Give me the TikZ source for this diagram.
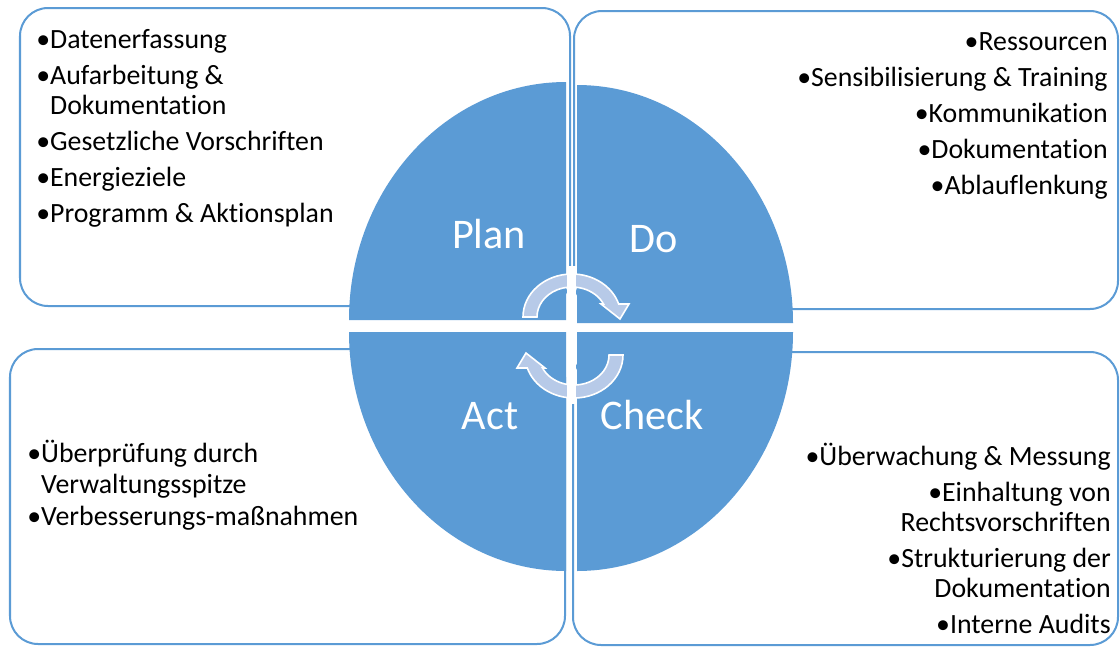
\documentclass[tikz,border=0pt]{standalone}
\usepackage{fontspec}
\setmainfont{Carlito}[Ligatures=NoCommon]
\definecolor{quarterBlue}{HTML}{5B9BD5}
\definecolor{arrowBlue}{HTML}{B7CAE8}
\tikzstyle{listbox} = [draw=quarterBlue, fill=white, line width=0.05cm, rounded corners=0.7cm]
\tikzstyle{quarter} = [fill=quarterBlue]
\tikzstyle{phase} = [text=white, font=\fontsize{30}{36}\selectfont, inner sep=0pt, anchor=base]
\tikzstyle{itemsLeft} = [align=left, anchor=north west, inner sep=0pt, font=\fontsize{19.8}{21.3}\selectfont]
\tikzstyle{itemsRight} = [align=right, anchor=north east, inner sep=0pt, font=\fontsize{19.8}{21.3}\selectfont]
\tikzstyle{cyclearrow} = [fill=arrowBlue, draw=white, line width=0.04cm]

\begin{document}
\begin{tikzpicture}[x=0.025cm, y=-0.025cm]
\useasboundingbox (0,0) rectangle (1120,646);

% boxes behind the circle
\draw [listbox] (20,8) rectangle (570,306);
\draw [listbox] (574,11) rectangle (1118,309);
\draw [listbox] (10,349) rectangle (565,644);
\draw [listbox] (573,352) rectangle (1118,645);

% four quarters
\fill [quarter] (566,320) -- (349,320) arc[start angle=180, end angle=270, x radius=217, y radius=238] -- cycle;
\fill [quarter] (577,323) -- (577,85) arc[start angle=270, end angle=360, x radius=216, y radius=238] -- cycle;
\fill [quarter] (566,332) -- (349,332) arc[start angle=180, end angle=90, x radius=217, y radius=239] -- cycle;
\fill [quarter] (577,332) -- (793,332) arc[start angle=0, end angle=90, x radius=216, y radius=239] -- cycle;

\node (plan) [phase] at (489,248) {Plan};
\node (do) [phase] at (654,252) {Do};
\node (act) [phase] at (490,429) {Act};
\node (check) [phase] at (652,429) {Check};

% cycle arrows
\filldraw [cyclearrow, shift={(572,317)}] (-49,0) arc[start angle=180, end angle=342.4, x radius=49, y radius=43] -- (57,-13) -- (48,2) -- (29,-13) -- (31.5,-13) arc[start angle=334.3, end angle=180, x radius=35, y radius=30] -- cycle;
\filldraw [cyclearrow, shift={(574,355)}, rotate=180] (-49,0) arc[start angle=180, end angle=342.4, x radius=49, y radius=43] -- (57,-13) -- (48,2) -- (29,-13) -- (31.5,-13) arc[start angle=334.3, end angle=180, x radius=35, y radius=30] -- cycle;
\fill [white] (567,266) rectangle (576,404);

% lists
\node (planList) [itemsLeft] at (36,27) {\strut•Datenerfassung\\[4.3pt]
  •Aufarbeitung \&\\ \hphantom{•}Dokumentation\\[4.3pt]
  •Gesetzliche Vorschriften\\[4.3pt]
  •Energieziele\\[4.3pt]
  •Programm \& Aktionsplan};
\node (doList) [itemsRight] at (1108,29) {\strut•Ressourcen\\[4.3pt]
  •Sensibilisierung \& Training\\[4.3pt]
  •Kommunikation\\[4.3pt]
  •Dokumentation\\[4.3pt]
  •Ablauflenkung};
\node (actList) [itemsLeft, font=\fontsize{19.8}{22}\selectfont] at (27,440) {\strut•Überprüfung durch\\ \hphantom{•}Verwaltungsspitze\\[1pt]
  •Verbesserungs-maßnahmen};
\node (checkList) [itemsRight] at (1111,443) {\strut•Überwachung \& Messung\\[4.3pt]
  •Einhaltung von\\ Rechtsvorschriften\\[4.3pt]
  •Strukturierung der\\ Dokumentation\\[4.3pt]
  •Interne Audits};

\end{tikzpicture}
\end{document}
